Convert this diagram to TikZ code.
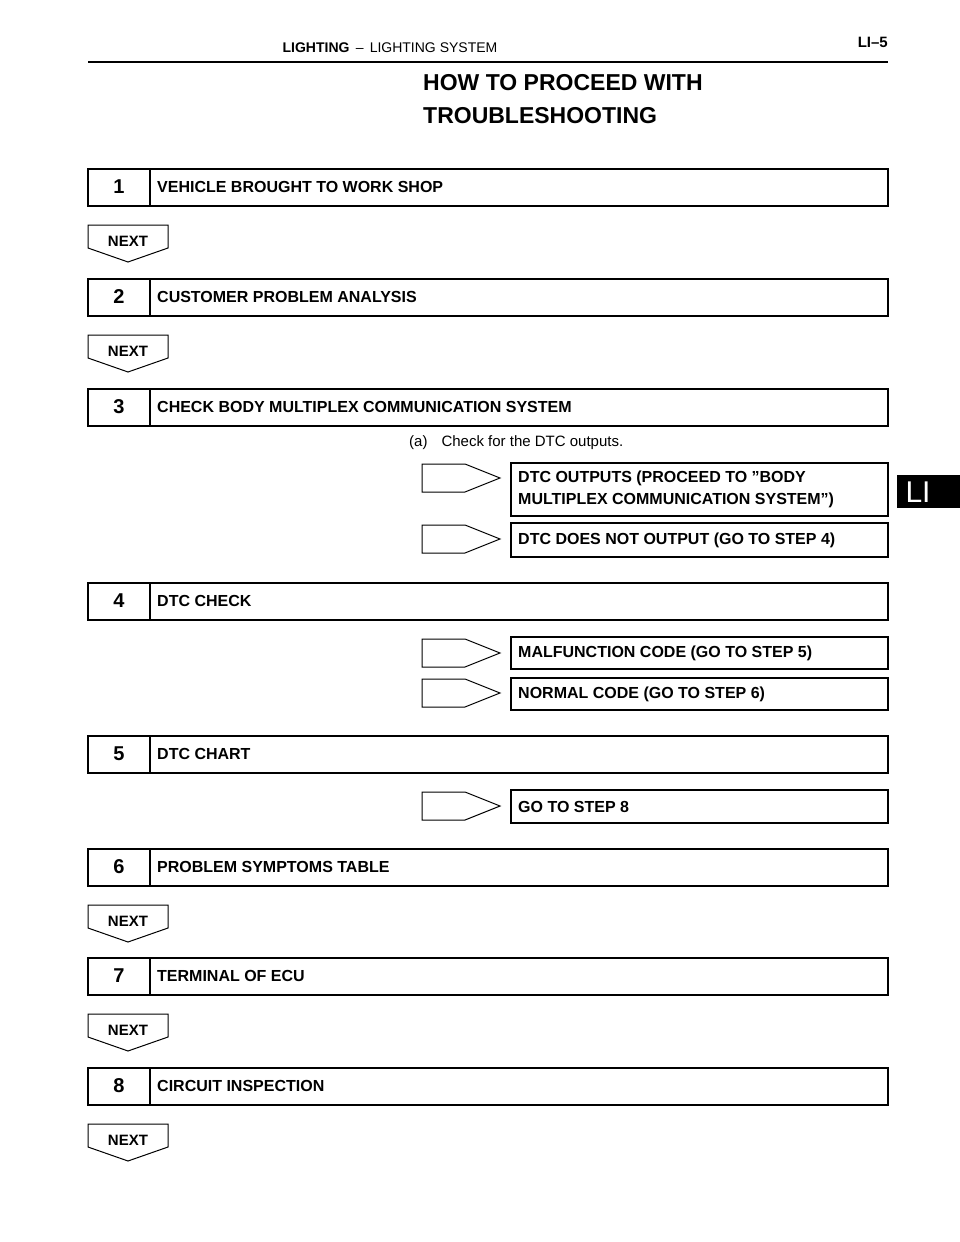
\documentclass[tikz,border=0pt]{standalone}
\usepackage{fontspec}
\setmainfont{Liberation Sans}
\begin{document}
\begin{tikzpicture}[x=1pt,y=-1pt,
  lw/.style={line width=1.3pt},
  tx/.style={font=\fontsize{16}{19}\selectfont\bfseries,anchor=west,inner sep=0pt},
  ]
\useasboundingbox (0,0) rectangle (960,1242);
\node[font=\fontsize{14}{16}\selectfont,inner sep=0] (hd) at (390,48) {\textbf{LIGHTING} \,–\, LIGHTING SYSTEM};
\node[font=\fontsize{15}{16}\selectfont\bfseries,anchor=east,inner sep=0] (pg) at (888,42) {LI–5};
\draw[line width=1.5pt] (88,62) -- (888,62);
\node[font=\fontsize{23}{33}\selectfont\bfseries,anchor=north west,align=left,inner sep=0] (title) at (423,74) {HOW TO PROCEED WITH\\TROUBLESHOOTING};
% step boxes
\foreach \n/\y/\t in {1/169/VEHICLE BROUGHT TO WORK SHOP,2/279/CUSTOMER PROBLEM ANALYSIS,3/389/CHECK BODY MULTIPLEX COMMUNICATION SYSTEM,4/583/DTC CHECK,5/736/DTC CHART,6/849/PROBLEM SYMPTOMS TABLE,7/958/TERMINAL OF ECU,8/1068/CIRCUIT INSPECTION}{
  \draw[lw] (88,\y) rectangle (888,\y+37);
  \draw[lw] (150,\y) -- (150,\y+37);
  \node[font=\fontsize{20}{20}\selectfont\bfseries,inner sep=0] (num\n) at (119,\y+18) {\n};
  \node[tx] (st\n) at (157,\y+18) {\t};
}
% NEXT markers
\foreach \y [count=\i] in {225,335,905,1014,1124}{
  \draw[line width=1pt] (88,\y) -- (168,\y) -- (168,\y+23) -- (128,\y+37) -- (88,\y+23) -- cycle;
  \node[font=\fontsize{15}{16}\selectfont\bfseries,inner sep=0] (nx\i) at (128,\y+16) {NEXT};
}
\node[font=\fontsize{15}{16}\selectfont,anchor=west,inner sep=0] (a) at (409,443) {(a)\hspace{14pt}Check for the DTC outputs.};
% result boxes
\foreach \k/\ya/\yb/\c/\t in {A/463/516/478/{DTC OUTPUTS (PROCEED TO "BODY\\MULTIPLEX COMMUNICATION SYSTEM")},B/523/557/539/DTC DOES NOT OUTPUT (GO TO STEP 4),C/637/669/653/MALFUNCTION CODE (GO TO STEP 5),D/678/710/693/NORMAL CODE (GO TO STEP 6),E/790/823/806/GO TO STEP 8}{
  \draw[lw] (511,\ya) rectangle (888,\yb);
  \node[tx,align=left,font=\fontsize{16}{22}\selectfont\bfseries] (r\k) at (518,{(\ya+\yb)/2}) {\t};
  \draw[line width=1pt] (422,\c-14) -- (465,\c-14) -- (500,\c) -- (465,\c+14) -- (422,\c+14) -- cycle;
}
\fill (897,475) rectangle (960,508);
\node[font=\fontsize{30}{30}\selectfont,text=white,inner sep=0] (tab) at (918,492) {LI};
\end{tikzpicture}
\end{document}
